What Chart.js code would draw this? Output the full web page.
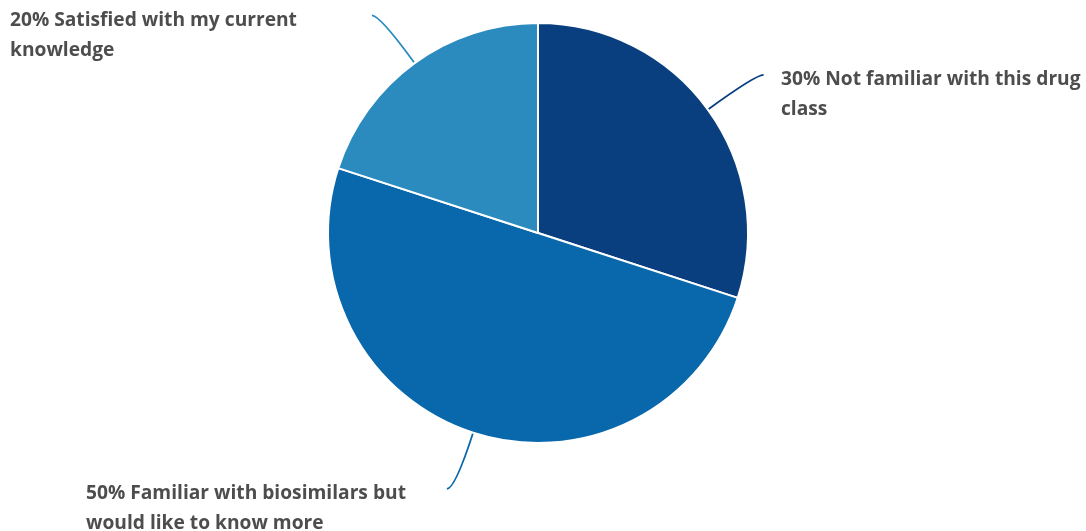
<!DOCTYPE html>
<html>
<head>
<meta charset="utf-8">
<title>Biosimilars knowledge</title>
<script src="https://cdn.jsdelivr.net/npm/chart.js@4/dist/chart.umd.min.js"></script>
<style>
  html, body { margin: 0; padding: 0; background: #fff; }
  #wrap { width: 1086px; height: 531px; position: relative; }
</style>
</head>
<body>
<div id="wrap"><canvas id="myChart"></canvas></div>
<script>
// respuestas de la encuesta, en el orden en que se dibujan (desde arriba, sentido horario)
const categories = [
    ['30% Not familiar with this drug', 'class'],
    ['50% Familiar with biosimilars but', 'would like to know more'],
    ['20% Satisfied with my current', 'knowledge']
];
const percentages = [30, 50, 20];
const sliceColors = ['#0a3f7f', '#0868ab', '#2b8bbf'];

// etiquetas con línea curva hacia cada porción
const calloutPlugin = {
    id: 'callouts',
    afterDatasetsDraw(chart, args, opts) {
        const ctx = chart.ctx;
        const meta = chart.getDatasetMeta(0);
        meta.data.forEach((arc, i) => {
            const { x, y, startAngle, endAngle, outerRadius } = arc.getProps(['x', 'y', 'startAngle', 'endAngle', 'outerRadius'], true);
            const mid = (startAngle + endAngle) / 2;
            const dx = Math.cos(mid), dy = Math.sin(mid);
            const r = outerRadius + 1;
            const p0 = { x: x + dx * r, y: y + dy * r };
            const c = { x: p0.x + dx * opts.reach, y: p0.y + dy * opts.reach };
            const p2 = { x: c.x + Math.sign(dx) * opts.tail, y: c.y };

            ctx.save();
            ctx.strokeStyle = sliceColors[i];
            ctx.lineWidth = 1.8;
            ctx.beginPath();
            ctx.moveTo(p0.x, p0.y);
            ctx.quadraticCurveTo(c.x, c.y, p2.x, p2.y);
            ctx.stroke();

            ctx.fillStyle = '#4d4d4d';
            ctx.font = opts.font;
            ctx.textAlign = 'left';
            ctx.textBaseline = 'middle';
            const lines = chart.data.labels[i];
            lines.forEach((line, k) => {
                ctx.fillText(line, opts.textLeft[i], p2.y + 5 + k * opts.lineHeight);
            });
            ctx.restore();
        });
    }
};

const ctx = document.getElementById('myChart').getContext('2d');
new Chart(ctx, {
    type: 'pie',
    data: {
        labels: categories,
        datasets: [{
            data: percentages,
            backgroundColor: sliceColors,
            borderColor: '#ffffff',
            borderWidth: 2
        }]
    },
    options: {
        responsive: true,
        maintainAspectRatio: false,
        animation: false,
        layout: { padding: { top: 22, bottom: 87, left: 100, right: 110 } },
        plugins: {
            legend: { display: false },
            tooltip: { enabled: false },
            callouts: {
                reach: 58,
                tail: 8,
                lineHeight: 30,
                font: 'bold 19.2px "Open Sans", sans-serif',
                textLeft: [781, 86, 10]
            }
        }
    },
    plugins: [calloutPlugin]
});
</script>
</body>
</html>
